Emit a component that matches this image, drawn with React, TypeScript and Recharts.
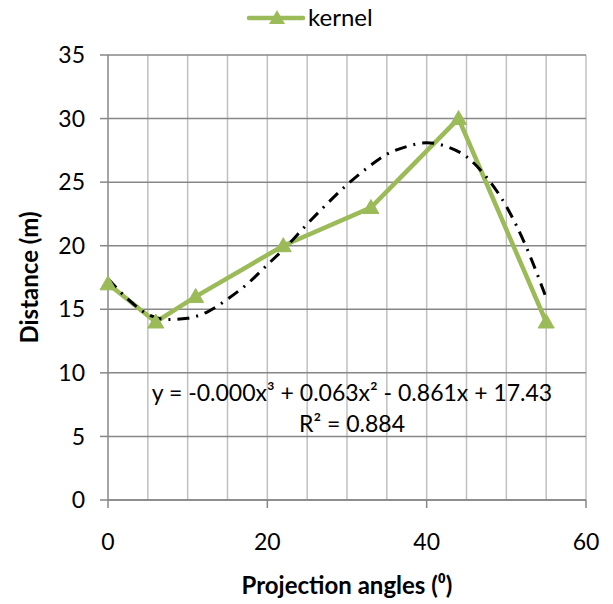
import React from 'react';
import { LineChart, Line, XAxis, YAxis, CartesianGrid, Legend } from 'recharts';

const angles = [0, 6, 11, 22, 33, 44, 55];
const kernel = [17, 14, 16, 20, 23, 30, 14];

const trendX = [0, 2.5, 5, 7.5, 10, 12.5, 15, 17.5, 20, 22.5, 25, 27.5, 30, 32.5, 35, 37.5, 40, 42.5, 45, 47.5, 50, 52.5, 55];
const trendY = [17.4, 15.8, 14.6, 14.2, 14.3, 14.8, 15.8, 17.0, 18.5, 20.0, 21.7, 23.3, 24.8, 26.1, 27.2, 27.8, 28.1, 27.8, 27.0, 25.4, 23.1, 19.9, 15.9];

const xTicks = [0, 20, 40, 60];
const yTicks = [0, 5, 10, 15, 20, 25, 30, 35];
const xGridValues = [5, 10, 15, 20, 25, 30, 35, 40, 45, 50, 55, 60];

const equationText = 'y = -0.000x³ + 0.063x² - 0.861x + 17.43';
const r2Text = 'R² = 0.884';

const kernelData = angles.map((a, i) => ({ x: a, kernel: kernel[i] }));
const trendData = trendX.map((a, i) => ({ x: a, trend: trendY[i] }));

const GREEN = '#9BBB59';
const FONT = 'Lato, "Open Sans", sans-serif';

const Triangle = (props: any) => {
  const { cx, cy } = props;
  if (cx == null || cy == null) return null;
  return <path d={`M${cx},${cy - 8} L${cx + 8},${cy + 6} L${cx - 8},${cy + 6} Z`} fill={GREEN} stroke={GREEN} strokeWidth={1} />;
};

const LegendContent = () => (
  <svg width={613} height={36}>
    <line x1={249} y1={18} x2={303} y2={18} stroke={GREEN} strokeWidth={4.5} strokeLinecap="round" />
    <path d="M277,10 L285,24 L269,24 Z" fill={GREEN} />
    <text x={308} y={26} fontFamily={FONT} fontSize={24} fill="#000">kernel</text>
  </svg>
);

const YLabel = (props: any) => {
  const vb = props.viewBox || {};
  const cy = vb.y + vb.height / 2;
  return (
    <text x={28} y={cy} transform={`rotate(-90, 28, ${cy})`} textAnchor="middle" dominantBaseline="central" fontFamily={FONT} fontWeight="bold" fontSize={24} fill="#000">
      Distance (m)
    </text>
  );
};

const XLabel = (props: any) => {
  const vb = props.viewBox || {};
  const cx = vb.x + vb.width / 2;
  return (
    <text x={cx} y={584} textAnchor="middle" dominantBaseline="central" fontFamily={FONT} fontWeight="bold" fontSize={24} fill="#000">
      Projection angles (⁰)
    </text>
  );
};

export default function App() {
  const tickStyle = { fill: '#000', fontSize: 23, fontFamily: FONT };
  return (
    <div style={{ position: 'absolute', left: 0, top: 0, width: 613, height: 604, background: '#fff' }}>
      <LineChart width={613} height={604} margin={{ top: 19, right: 27, left: 0, bottom: 0 }}>
        <CartesianGrid horizontal={false} vertical={true} verticalValues={xGridValues} stroke="#c0c0c0" strokeWidth={1.5} />
        <CartesianGrid horizontal={true} vertical={false} horizontalValues={yTicks} stroke="#878787" strokeWidth={1.5} />
        <XAxis
          dataKey="x"
          type="number"
          domain={[0, 60]}
          ticks={xTicks}
          height={104}
          tickSize={8}
          tickMargin={26}
          tick={tickStyle}
          stroke="#878787"
          strokeWidth={1.5}
          allowDuplicatedCategory={false}
          label={<XLabel />}
        />
        <YAxis
          type="number"
          domain={[0, 35]}
          ticks={yTicks}
          width={108}
          tickSize={8}
          tickMargin={15}
          tick={tickStyle}
          stroke="#878787"
          strokeWidth={1.5}
          label={<YLabel />}
        />
        <Legend verticalAlign="top" content={<LegendContent />} wrapperStyle={{ top: 0, left: 0, width: 613, height: 36 }} />
        <Line
          data={kernelData}
          dataKey="kernel"
          name="kernel"
          type="linear"
          stroke={GREEN}
          strokeWidth={4.5}
          dot={<Triangle />}
          activeDot={false}
          isAnimationActive={false}
        />
        <Line
          data={trendData}
          dataKey="trend"
          name="trend"
          type="monotone"
          stroke="#000"
          strokeWidth={3}
          strokeDasharray="12 7 2 7"
          dot={false}
          activeDot={false}
          legendType="none"
          isAnimationActive={false}
        />
      </LineChart>
      <div style={{ position: 'absolute', left: 102, width: 500, top: 377, textAlign: 'center', fontFamily: FONT, fontSize: 23, lineHeight: '31px', color: '#000', pointerEvents: 'none' }}>
        <div>{equationText}</div>
        <div>{r2Text}</div>
      </div>
    </div>
  );
}
